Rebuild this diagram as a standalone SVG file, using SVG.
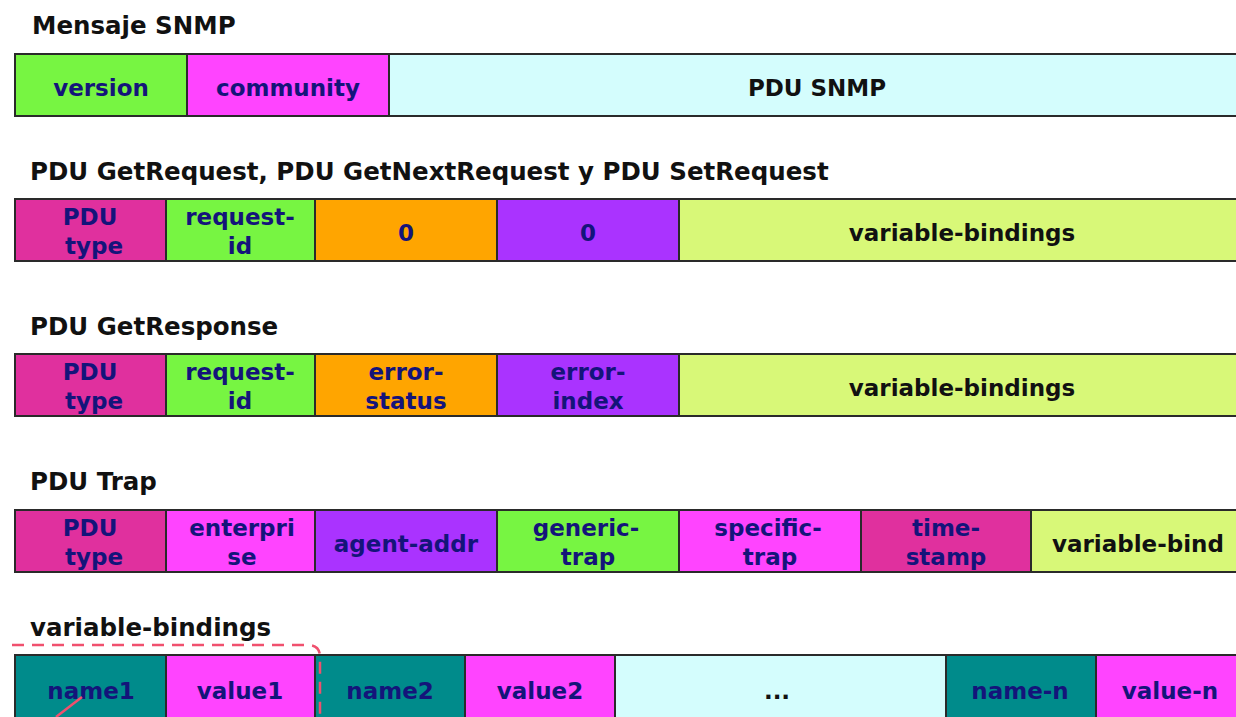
<svg xmlns="http://www.w3.org/2000/svg" width="1236" height="717" viewBox="0 0 1236 717">
  <style>
    .title { font-family: "DejaVu Sans", "Liberation Sans", sans-serif; font-weight: bold; font-size: 24.5px; fill: #111; }
    .lbl { font-family: "DejaVu Sans", "Liberation Sans", sans-serif; font-weight: bold; font-size: 23px; fill: #14147a; text-anchor: middle; }
    .lbl.dark { fill: #111; }
    .box { stroke: #2a2a2a; stroke-width: 2; }
    .green { fill: #77f542; }
    .magenta { fill: #ff44ff; }
    .cyan { fill: #d4fdfd; }
    .pink { fill: #e0309e; }
    .orange { fill: #ffa500; }
    .purple { fill: #aa33ff; }
    .lime { fill: #d8f878; }
    .teal { fill: #008b8b; }
  </style>
  <rect width="1236" height="717" fill="#fff"/>

  <!-- Section titles -->
  <text class="title" x="32" y="34">Mensaje SNMP</text>
  <text class="title" x="30" y="180">PDU GetRequest, PDU GetNextRequest y PDU SetRequest</text>
  <text class="title" x="30" y="335">PDU GetResponse</text>
  <text class="title" x="30" y="490">PDU Trap</text>
  <text class="title" x="30" y="636">variable-bindings</text>

  <!-- SNMP message -->
  <g id="msg-version"><rect class="box green" x="15" y="54" width="172" height="62"/><text class="lbl" x="101" y="96">version</text></g>
  <g id="msg-community"><rect class="box magenta" x="187" y="54" width="202" height="62"/><text class="lbl" x="288" y="96">community</text></g>
  <g id="msg-pdu"><rect class="box cyan" x="389" y="54" width="860" height="62"/><text class="lbl dark" x="817" y="96">PDU SNMP</text></g>

  <!-- GetRequest / GetNextRequest / SetRequest -->
  <g id="req-type"><rect class="box pink" x="15" y="199" width="151" height="62"/><text class="lbl" x="90" y="225">PDU</text><text class="lbl" x="94" y="254">type</text></g>
  <g id="req-id"><rect class="box green" x="166" y="199" width="149" height="62"/><text class="lbl" x="240" y="225">request-</text><text class="lbl" x="240" y="254">id</text></g>
  <g id="req-zero1"><rect class="box orange" x="315" y="199" width="182" height="62"/><text class="lbl" x="406" y="241">0</text></g>
  <g id="req-zero2"><rect class="box purple" x="497" y="199" width="182" height="62"/><text class="lbl" x="588" y="241">0</text></g>
  <g id="req-vb"><rect class="box lime" x="679" y="199" width="570" height="62"/><text class="lbl dark" x="962" y="241">variable-bindings</text></g>

  <!-- GetResponse -->
  <g id="resp-type"><rect class="box pink" x="15" y="354" width="151" height="62"/><text class="lbl" x="90" y="380">PDU</text><text class="lbl" x="94" y="409">type</text></g>
  <g id="resp-id"><rect class="box green" x="166" y="354" width="149" height="62"/><text class="lbl" x="240" y="380">request-</text><text class="lbl" x="240" y="409">id</text></g>
  <g id="resp-status"><rect class="box orange" x="315" y="354" width="182" height="62"/><text class="lbl" x="406" y="380">error-</text><text class="lbl" x="406" y="409">status</text></g>
  <g id="resp-index"><rect class="box purple" x="497" y="354" width="182" height="62"/><text class="lbl" x="588" y="380">error-</text><text class="lbl" x="588" y="409">index</text></g>
  <g id="resp-vb"><rect class="box lime" x="679" y="354" width="570" height="62"/><text class="lbl dark" x="962" y="396">variable-bindings</text></g>

  <!-- Trap -->
  <g id="trap-type"><rect class="box pink" x="15" y="510" width="151" height="62"/><text class="lbl" x="90" y="536">PDU</text><text class="lbl" x="94" y="565">type</text></g>
  <g id="trap-enterprise"><rect class="box magenta" x="166" y="510" width="149" height="62"/><text class="lbl" x="242" y="536">enterpri</text><text class="lbl" x="242" y="565">se</text></g>
  <g id="trap-agent"><rect class="box purple" x="315" y="510" width="182" height="62"/><text class="lbl" x="406" y="552">agent-addr</text></g>
  <g id="trap-generic"><rect class="box green" x="497" y="510" width="182" height="62"/><text class="lbl" x="586" y="536">generic-</text><text class="lbl" x="588" y="565">trap</text></g>
  <g id="trap-specific"><rect class="box magenta" x="679" y="510" width="182" height="62"/><text class="lbl" x="768" y="536">specific-</text><text class="lbl" x="770" y="565">trap</text></g>
  <g id="trap-time"><rect class="box pink" x="861" y="510" width="170" height="62"/><text class="lbl" x="946" y="536">time-</text><text class="lbl" x="946" y="565">stamp</text></g>
  <g id="trap-vb"><rect class="box lime" x="1031" y="510" width="218" height="62"/><text class="lbl dark" x="1138" y="552">variable-bind</text></g>

  <!-- variable-bindings list -->
  <g id="vb-name1"><rect class="box teal" x="15" y="655" width="151" height="70"/><text class="lbl" x="91" y="699">name1</text></g>
  <g id="vb-value1"><rect class="box magenta" x="166" y="655" width="149" height="70"/><text class="lbl" x="240" y="699">value1</text></g>
  <g id="vb-name2"><rect class="box teal" x="315" y="655" width="150" height="70"/><text class="lbl" x="390" y="699">name2</text></g>
  <g id="vb-value2"><rect class="box magenta" x="465" y="655" width="150" height="70"/><text class="lbl" x="540" y="699">value2</text></g>
  <g id="vb-ellipsis"><rect class="box cyan" x="615" y="655" width="331" height="70"/><text class="lbl dark" x="777" y="699">...</text></g>
  <g id="vb-namen"><rect class="box teal" x="946" y="655" width="150" height="70"/><text class="lbl" x="1020" y="699">name-n</text></g>
  <g id="vb-valuen"><rect class="box magenta" x="1096" y="655" width="153" height="70"/><text class="lbl" x="1170" y="699">value-n</text></g>

  <!-- connectors: dashed grouping of the first binding and its pointer line -->
  <g id="connectors" fill="none" stroke="#f0506e" stroke-width="2.5">
    <path d="M12 645 H308 Q320 645 320 657 V717" stroke-dasharray="12 8"/>
    <path d="M82 697 L56 717"/>
  </g>
</svg>
